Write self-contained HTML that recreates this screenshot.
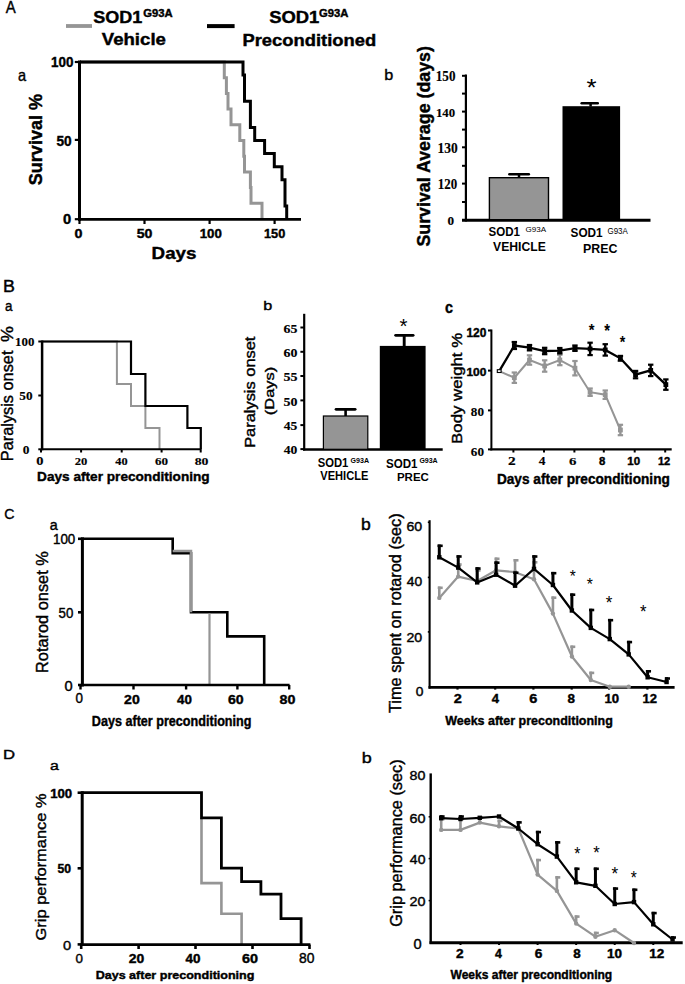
<!DOCTYPE html>
<html><head><meta charset="utf-8"><style>
html,body{margin:0;padding:0;background:#fff;}
svg{display:block;}
text{font-family:"Liberation Sans",sans-serif;stroke:#000;stroke-width:0.4px;}
text.s{font-family:"Liberation Serif",serif;stroke-width:0.15px;}
text.n{stroke-width:0;}
</style></head><body>
<svg width="685" height="984" viewBox="0 0 685 984">
<rect width="685" height="984" fill="#fff"/>
<text x="5.76" y="13.0" font-size="16.29" font-weight="normal" fill="#000" textLength="9.97" lengthAdjust="spacingAndGlyphs">A</text>
<line x1="66" y1="26" x2="92" y2="26" stroke="#959595" stroke-width="3.8" stroke-linecap="butt"/>
<text x="93.16" y="22.73" font-size="16.54" font-weight="bold" fill="#000" textLength="49.05" lengthAdjust="spacingAndGlyphs">SOD1</text>
<text x="143.35" y="17.27" font-size="10.14" font-weight="bold" fill="#000" textLength="29.36" lengthAdjust="spacingAndGlyphs">G93A</text>
<text x="101.76" y="44.83" font-size="16.73" font-weight="bold" fill="#000" textLength="64.18" lengthAdjust="spacingAndGlyphs">Vehicle</text>
<line x1="207" y1="26.1" x2="234.6" y2="26.1" stroke="#000" stroke-width="4" stroke-linecap="butt"/>
<text x="269.15" y="22.83" font-size="16.54" font-weight="bold" fill="#000" textLength="50.17" lengthAdjust="spacingAndGlyphs">SOD1</text>
<text x="318.95" y="17.47" font-size="10.28" font-weight="bold" fill="#000" textLength="29.36" lengthAdjust="spacingAndGlyphs">G93A</text>
<text x="242.46" y="45.74" font-size="16.46" font-weight="bold" fill="#000" textLength="133.75" lengthAdjust="spacingAndGlyphs">Preconditioned</text>
<text x="17.88" y="80.64" font-size="16.07" font-weight="normal" fill="#000" textLength="8.1" lengthAdjust="spacingAndGlyphs">a</text>
<path d="M80,62H224.3V77.7H226.4V93.4H228V109.1H231V124.8H239.8V140.5H243.8V156.2H244.5V171.9H250.4V187.6H251V203.3H262V219.0" fill="none" stroke="#959595" stroke-width="3" stroke-linejoin="miter" stroke-linecap="butt"/>
<path d="M80,62H243V75.1H244.5V101.2H250.4V127.4H254.7V140.5H264.6V153.6H274.3V166.7H282V179.7H285V205.9H286.7V219.0" fill="none" stroke="#000" stroke-width="3" stroke-linejoin="miter" stroke-linecap="butt"/>
<line x1="79.5" y1="60.5" x2="79.5" y2="220.8" stroke="#000" stroke-width="3" stroke-linecap="butt"/>
<line x1="78" y1="219.4" x2="301" y2="219.4" stroke="#000" stroke-width="2.8" stroke-linecap="butt"/>
<line x1="74.8" y1="62" x2="79.5" y2="62" stroke="#000" stroke-width="2.2" stroke-linecap="butt"/>
<line x1="74.8" y1="139.9" x2="79.5" y2="139.9" stroke="#000" stroke-width="2.2" stroke-linecap="butt"/>
<line x1="74.8" y1="219.2" x2="79.5" y2="219.2" stroke="#000" stroke-width="2.2" stroke-linecap="butt"/>
<text x="51.06" y="66.91" font-size="14.35" font-weight="bold" fill="#000" textLength="22.39" lengthAdjust="spacingAndGlyphs">100</text>
<text x="56.49" y="146.45" font-size="14.56" font-weight="bold" fill="#000" textLength="15.19" lengthAdjust="spacingAndGlyphs">50</text>
<text x="62.91" y="224.46" font-size="14.13" font-weight="bold" fill="#000" textLength="8.2" lengthAdjust="spacingAndGlyphs">0</text>
<line x1="79.5" y1="219.4" x2="79.5" y2="224" stroke="#000" stroke-width="2.2" stroke-linecap="butt"/>
<line x1="144.5" y1="219.4" x2="144.5" y2="224" stroke="#000" stroke-width="2.2" stroke-linecap="butt"/>
<line x1="209.6" y1="219.4" x2="209.6" y2="224" stroke="#000" stroke-width="2.2" stroke-linecap="butt"/>
<line x1="274.6" y1="219.4" x2="274.6" y2="224" stroke="#000" stroke-width="2.2" stroke-linecap="butt"/>
<text x="74.53" y="237.56" font-size="13.57" font-weight="bold" fill="#000" textLength="7.96" lengthAdjust="spacingAndGlyphs">0</text>
<text x="136.78" y="237.77" font-size="12.86" font-weight="bold" fill="#000" textLength="15.72" lengthAdjust="spacingAndGlyphs">50</text>
<text x="199.67" y="238.27" font-size="13.43" font-weight="bold" fill="#000" textLength="22.18" lengthAdjust="spacingAndGlyphs">100</text>
<text x="264.0" y="238.27" font-size="13.43" font-weight="bold" fill="#000" textLength="21.32" lengthAdjust="spacingAndGlyphs">150</text>
<text x="151.63" y="259.45" font-size="16.65" font-weight="bold" fill="#000" textLength="44.83" lengthAdjust="spacingAndGlyphs">Days</text>
<text x="41.62" y="185.14" font-size="18.23" font-weight="bold" fill="#000" textLength="91.1" lengthAdjust="spacingAndGlyphs" transform="rotate(-90 41.62 185.14)">Survival %</text>
<text x="384.25" y="80.34" font-size="15.51" font-weight="normal" fill="#000" textLength="9.02" lengthAdjust="spacingAndGlyphs">b</text>
<line x1="465.9" y1="74.5" x2="465.9" y2="221.5" stroke="#000" stroke-width="2.2" stroke-linecap="butt"/>
<line x1="462" y1="220.2" x2="650.5" y2="220.2" stroke="#000" stroke-width="3" stroke-linecap="butt"/>
<line x1="462" y1="75.8" x2="465.9" y2="75.8" stroke="#000" stroke-width="2" stroke-linecap="butt"/>
<line x1="462" y1="93.6" x2="465.9" y2="93.6" stroke="#000" stroke-width="2" stroke-linecap="butt"/>
<line x1="462" y1="111.6" x2="465.9" y2="111.6" stroke="#000" stroke-width="2" stroke-linecap="butt"/>
<line x1="462" y1="129.6" x2="465.9" y2="129.6" stroke="#000" stroke-width="2" stroke-linecap="butt"/>
<line x1="462" y1="147.3" x2="465.9" y2="147.3" stroke="#000" stroke-width="2" stroke-linecap="butt"/>
<line x1="462" y1="165.8" x2="465.9" y2="165.8" stroke="#000" stroke-width="2" stroke-linecap="butt"/>
<line x1="462" y1="183.6" x2="465.9" y2="183.6" stroke="#000" stroke-width="2" stroke-linecap="butt"/>
<line x1="462" y1="202" x2="465.9" y2="202" stroke="#000" stroke-width="2" stroke-linecap="butt"/>
<text x="435.75" y="80.56" font-size="14.37" font-weight="bold" class="s" fill="#000" textLength="19.75" lengthAdjust="spacingAndGlyphs">150</text>
<text x="435.98" y="116.87" font-size="12.74" font-weight="bold" class="s" fill="#000" textLength="19.2" lengthAdjust="spacingAndGlyphs">140</text>
<text x="437.52" y="152.96" font-size="13.78" font-weight="bold" class="s" fill="#000" textLength="20.18" lengthAdjust="spacingAndGlyphs">130</text>
<text x="437.76" y="188.66" font-size="13.63" font-weight="bold" class="s" fill="#000" textLength="19.42" lengthAdjust="spacingAndGlyphs">120</text>
<text x="447.51" y="225.48" font-size="12.3" font-weight="bold" class="s" fill="#000" textLength="6.59" lengthAdjust="spacingAndGlyphs">0</text>
<rect x="489.4" y="177.7" width="59.1" height="42" fill="#959595" stroke="#000" stroke-width="1.4"/>
<line x1="519" y1="177.7" x2="519" y2="173.5" stroke="#000" stroke-width="2.5" stroke-linecap="butt"/>
<line x1="509.4" y1="174.3" x2="528.8" y2="174.3" stroke="#000" stroke-width="2.6" stroke-linecap="round"/>
<rect x="562.5" y="106.2" width="57.6" height="113" fill="#000"/>
<line x1="590.6" y1="106.5" x2="590.6" y2="102" stroke="#000" stroke-width="2.5" stroke-linecap="butt"/>
<line x1="581.7" y1="103.2" x2="597.7" y2="103.2" stroke="#000" stroke-width="2.6" stroke-linecap="round"/>
<text x="586.55" y="95.81" font-size="23.43" font-weight="normal" class="n" fill="#000" textLength="10.09" lengthAdjust="spacingAndGlyphs">*</text>
<text x="430.51" y="246.53" font-size="18.77" font-weight="bold" fill="#000" textLength="200.42" lengthAdjust="spacingAndGlyphs" transform="rotate(-90 430.51 246.53)">Survival Average (days)</text>
<text x="488.55" y="235.67" font-size="13.43" font-weight="bold" class="n" fill="#000" textLength="31.47" lengthAdjust="spacingAndGlyphs">SOD1</text>
<text x="525.5" y="231.72" font-size="7.77" font-weight="normal" class="n" fill="#000" textLength="20.62" lengthAdjust="spacingAndGlyphs">G93A</text>
<text x="493.11" y="250.57" font-size="13.0" font-weight="bold" class="n" fill="#000" textLength="52.67" lengthAdjust="spacingAndGlyphs">VEHICLE</text>
<text x="570.55" y="237.47" font-size="13.0" font-weight="bold" class="n" fill="#000" textLength="32.09" lengthAdjust="spacingAndGlyphs">SOD1</text>
<text x="607.5" y="233.72" font-size="8.2" font-weight="normal" class="n" fill="#000" textLength="20.31" lengthAdjust="spacingAndGlyphs">G93A</text>
<text x="583.06" y="252.57" font-size="13.0" font-weight="bold" class="n" fill="#000" textLength="34.39" lengthAdjust="spacingAndGlyphs">PREC</text>
<text x="3.03" y="291.6" font-size="16.15" font-weight="normal" fill="#000" textLength="11.9" lengthAdjust="spacingAndGlyphs">B</text>
<text x="4.93" y="310.65" font-size="15.34" font-weight="normal" fill="#000" textLength="7.45" lengthAdjust="spacingAndGlyphs">a</text>
<path d="M42.1,341.5H116.9V384H131V406H145.4V428H159.5V449.3" fill="none" stroke="#959595" stroke-width="2" stroke-linejoin="miter" stroke-linecap="butt"/>
<path d="M42.1,341.5H131V374H145.4V406H187.4V428H200.8V449.3" fill="none" stroke="#000" stroke-width="2.2" stroke-linejoin="miter" stroke-linecap="butt"/>
<line x1="42.1" y1="340.5" x2="42.1" y2="450.3" stroke="#000" stroke-width="2.5" stroke-linecap="butt"/>
<line x1="41" y1="449.3" x2="201.3" y2="449.3" stroke="#000" stroke-width="2" stroke-linecap="butt"/>
<line x1="38.3" y1="341.5" x2="42.1" y2="341.5" stroke="#000" stroke-width="2" stroke-linecap="butt"/>
<line x1="38.3" y1="395.5" x2="42.1" y2="395.5" stroke="#000" stroke-width="2" stroke-linecap="butt"/>
<line x1="38.3" y1="449.3" x2="42.1" y2="449.3" stroke="#000" stroke-width="2" stroke-linecap="butt"/>
<text x="15.07" y="345.78" font-size="11.85" font-weight="bold" class="s" fill="#000" textLength="19.31" lengthAdjust="spacingAndGlyphs">100</text>
<text x="19.27" y="399.68" font-size="12.15" font-weight="bold" class="s" fill="#000" textLength="13.22" lengthAdjust="spacingAndGlyphs">50</text>
<text x="22.7" y="453.68" font-size="11.85" font-weight="bold" class="s" fill="#000" textLength="6.71" lengthAdjust="spacingAndGlyphs">0</text>
<line x1="41" y1="449.3" x2="41" y2="452.5" stroke="#000" stroke-width="2" stroke-linecap="butt"/>
<line x1="81.1" y1="449.3" x2="81.1" y2="452.5" stroke="#000" stroke-width="2" stroke-linecap="butt"/>
<line x1="121.7" y1="449.3" x2="121.7" y2="452.5" stroke="#000" stroke-width="2" stroke-linecap="butt"/>
<line x1="161.6" y1="449.3" x2="161.6" y2="452.5" stroke="#000" stroke-width="2" stroke-linecap="butt"/>
<line x1="200.7" y1="449.3" x2="200.7" y2="452.5" stroke="#000" stroke-width="2" stroke-linecap="butt"/>
<text x="36.16" y="465.34" font-size="11.48" font-weight="bold" class="s" fill="#000" textLength="7.24" lengthAdjust="spacingAndGlyphs">0</text>
<text x="74.76" y="465.29" font-size="11.26" font-weight="bold" class="s" fill="#000" textLength="12.61" lengthAdjust="spacingAndGlyphs">20</text>
<text x="115.25" y="465.29" font-size="11.26" font-weight="bold" class="s" fill="#000" textLength="12.32" lengthAdjust="spacingAndGlyphs">40</text>
<text x="154.94" y="465.29" font-size="10.96" font-weight="bold" class="s" fill="#000" textLength="13.05" lengthAdjust="spacingAndGlyphs">60</text>
<text x="194.65" y="465.29" font-size="10.96" font-weight="bold" class="s" fill="#000" textLength="13.76" lengthAdjust="spacingAndGlyphs">80</text>
<text x="37.08" y="481.19" font-size="13.23" font-weight="bold" fill="#000" textLength="172.62" lengthAdjust="spacingAndGlyphs">Days after preconditioning</text>
<text x="12.63" y="461.15" font-size="15.76" font-weight="normal" fill="#000" textLength="110.58" lengthAdjust="spacingAndGlyphs" transform="rotate(-90 12.63 461.15)">Paralysis onset</text>
<text x="13.02" y="342.12" font-size="16.57" font-weight="normal" fill="#000" textLength="15.83" lengthAdjust="spacingAndGlyphs" transform="rotate(-90 13.02 342.12)">%</text>
<text x="263.35" y="310.47" font-size="13.33" font-weight="normal" fill="#000" textLength="9.02" lengthAdjust="spacingAndGlyphs">b</text>
<line x1="304.2" y1="313.8" x2="304.2" y2="450.5" stroke="#000" stroke-width="2.2" stroke-linecap="butt"/>
<line x1="303" y1="449.4" x2="442.7" y2="449.4" stroke="#000" stroke-width="2.5" stroke-linecap="butt"/>
<line x1="300.4" y1="327.5" x2="304.2" y2="327.5" stroke="#000" stroke-width="2" stroke-linecap="butt"/>
<line x1="300.4" y1="351.8" x2="304.2" y2="351.8" stroke="#000" stroke-width="2" stroke-linecap="butt"/>
<line x1="300.4" y1="376" x2="304.2" y2="376" stroke="#000" stroke-width="2" stroke-linecap="butt"/>
<line x1="300.4" y1="400.4" x2="304.2" y2="400.4" stroke="#000" stroke-width="2" stroke-linecap="butt"/>
<line x1="300.4" y1="425.1" x2="304.2" y2="425.1" stroke="#000" stroke-width="2" stroke-linecap="butt"/>
<line x1="300.4" y1="449.1" x2="304.2" y2="449.1" stroke="#000" stroke-width="2" stroke-linecap="butt"/>
<text x="283.51" y="332.77" font-size="12.94" font-weight="bold" class="s" fill="#000" textLength="13.91" lengthAdjust="spacingAndGlyphs">65</text>
<text x="283.51" y="357.07" font-size="12.89" font-weight="bold" class="s" fill="#000" textLength="13.91" lengthAdjust="spacingAndGlyphs">60</text>
<text x="283.44" y="381.27" font-size="13.08" font-weight="bold" class="s" fill="#000" textLength="13.98" lengthAdjust="spacingAndGlyphs">55</text>
<text x="283.44" y="405.67" font-size="12.89" font-weight="bold" class="s" fill="#000" textLength="13.98" lengthAdjust="spacingAndGlyphs">50</text>
<text x="283.83" y="430.37" font-size="13.03" font-weight="bold" class="s" fill="#000" textLength="13.58" lengthAdjust="spacingAndGlyphs">45</text>
<text x="283.83" y="454.37" font-size="12.89" font-weight="bold" class="s" fill="#000" textLength="13.58" lengthAdjust="spacingAndGlyphs">40</text>
<rect x="323.4" y="416" width="44.4" height="33.3" fill="#959595" stroke="#000" stroke-width="1.2"/>
<line x1="345.6" y1="416" x2="345.6" y2="408" stroke="#000" stroke-width="2.6" stroke-linecap="butt"/>
<line x1="336" y1="409.3" x2="355.2" y2="409.3" stroke="#000" stroke-width="2.7" stroke-linecap="round"/>
<rect x="379.8" y="345.9" width="45.8" height="103.4" fill="#000"/>
<line x1="404.2" y1="346.4" x2="404.2" y2="334.5" stroke="#000" stroke-width="2.9" stroke-linecap="butt"/>
<line x1="395.6" y1="335.3" x2="413.2" y2="335.3" stroke="#000" stroke-width="2.7" stroke-linecap="round"/>
<text x="399.54" y="332.84" font-size="20.86" font-weight="normal" class="n" fill="#000" textLength="8.0" lengthAdjust="spacingAndGlyphs">*</text>
<text x="255.45" y="447.85" font-size="13.73" font-weight="normal" fill="#000" textLength="111.29" lengthAdjust="spacingAndGlyphs" transform="rotate(-90 255.45 447.85)">Paralysis onset</text>
<text x="273.89" y="415.13" font-size="13.08" font-weight="normal" fill="#000" textLength="48.3" lengthAdjust="spacingAndGlyphs" transform="rotate(-90 273.89 415.13)">(Days)</text>
<text x="317.66" y="467.37" font-size="12.72" font-weight="bold" class="n" fill="#000" textLength="30.66" lengthAdjust="spacingAndGlyphs">SOD1</text>
<text x="350.52" y="463.21" font-size="7.46" font-weight="bold" class="n" fill="#000" textLength="18.48" lengthAdjust="spacingAndGlyphs">G93A</text>
<text x="320.32" y="479.88" font-size="12.3" font-weight="bold" class="n" fill="#000" textLength="48.02" lengthAdjust="spacingAndGlyphs">VEHICLE</text>
<text x="385.95" y="467.87" font-size="12.58" font-weight="bold" class="n" fill="#000" textLength="31.57" lengthAdjust="spacingAndGlyphs">SOD1</text>
<text x="419.42" y="463.21" font-size="7.46" font-weight="bold" class="n" fill="#000" textLength="18.27" lengthAdjust="spacingAndGlyphs">G93A</text>
<text x="396.92" y="480.58" font-size="11.73" font-weight="bold" class="n" fill="#000" textLength="32.0" lengthAdjust="spacingAndGlyphs">PREC</text>
<text x="444.93" y="312.64" font-size="15.89" font-weight="bold" fill="#000" textLength="7.99" lengthAdjust="spacingAndGlyphs">c</text>
<line x1="491.4" y1="329.5" x2="491.4" y2="450.3" stroke="#000" stroke-width="2" stroke-linecap="butt"/>
<line x1="490.4" y1="449.4" x2="671.7" y2="449.4" stroke="#000" stroke-width="2.2" stroke-linecap="butt"/>
<line x1="488" y1="330.5" x2="491.4" y2="330.5" stroke="#000" stroke-width="2" stroke-linecap="butt"/>
<line x1="488" y1="370.6" x2="491.4" y2="370.6" stroke="#000" stroke-width="2" stroke-linecap="butt"/>
<line x1="488" y1="410.4" x2="491.4" y2="410.4" stroke="#000" stroke-width="2" stroke-linecap="butt"/>
<line x1="488" y1="449.4" x2="491.4" y2="449.4" stroke="#000" stroke-width="2" stroke-linecap="butt"/>
<text x="466.45" y="336.68" font-size="12.16" font-weight="bold" fill="#000" textLength="19.94" lengthAdjust="spacingAndGlyphs">120</text>
<text x="466.45" y="376.39" font-size="10.74" font-weight="bold" fill="#000" textLength="19.94" lengthAdjust="spacingAndGlyphs">100</text>
<text x="470.87" y="415.77" font-size="12.74" font-weight="bold" class="s" fill="#000" textLength="13.12" lengthAdjust="spacingAndGlyphs">80</text>
<text x="470.84" y="455.68" font-size="12.15" font-weight="bold" class="s" fill="#000" textLength="13.15" lengthAdjust="spacingAndGlyphs">60</text>
<line x1="513.4" y1="449.4" x2="513.4" y2="452.5" stroke="#000" stroke-width="2" stroke-linecap="butt"/>
<line x1="544" y1="449.4" x2="544" y2="452.5" stroke="#000" stroke-width="2" stroke-linecap="butt"/>
<line x1="574.4" y1="449.4" x2="574.4" y2="452.5" stroke="#000" stroke-width="2" stroke-linecap="butt"/>
<line x1="603.8" y1="449.4" x2="603.8" y2="452.5" stroke="#000" stroke-width="2" stroke-linecap="butt"/>
<line x1="634.7" y1="449.4" x2="634.7" y2="452.5" stroke="#000" stroke-width="2" stroke-linecap="butt"/>
<line x1="665.2" y1="449.4" x2="665.2" y2="452.5" stroke="#000" stroke-width="2" stroke-linecap="butt"/>
<text x="508.04" y="464.8" font-size="11.47" font-weight="bold" class="s" fill="#000" textLength="7.71" lengthAdjust="spacingAndGlyphs">2</text>
<text x="538.73" y="464.8" font-size="11.56" font-weight="bold" class="s" fill="#000" textLength="6.7" lengthAdjust="spacingAndGlyphs">4</text>
<text x="569.08" y="464.69" font-size="11.3" font-weight="bold" class="s" fill="#000" textLength="7.47" lengthAdjust="spacingAndGlyphs">6</text>
<text x="599.13" y="464.59" font-size="10.74" font-weight="bold" fill="#000" textLength="6.32" lengthAdjust="spacingAndGlyphs">8</text>
<text x="627.38" y="464.59" font-size="10.74" font-weight="bold" fill="#000" textLength="12.81" lengthAdjust="spacingAndGlyphs">10</text>
<text x="657.9" y="464.7" font-size="10.9" font-weight="bold" fill="#000" textLength="12.45" lengthAdjust="spacingAndGlyphs">12</text>
<text x="496.88" y="484.19" font-size="14.19" font-weight="bold" fill="#000" textLength="172.93" lengthAdjust="spacingAndGlyphs">Days after preconditioning</text>
<text x="462.44" y="443.88" font-size="15.23" font-weight="normal" fill="#000" textLength="110.97" lengthAdjust="spacingAndGlyphs" transform="rotate(-90 462.44 443.88)">Body weight %</text>
<path d="M499.2,371.1 L514.4,377.7 L529.5,360 L544.6,366 L559.8,360 L575.0,368.2 L590.1,392.2 L605.2,394.7 L620.4,430" fill="none" stroke="#959595" stroke-width="2.0" stroke-linejoin="miter" stroke-linecap="butt"/>
<line x1="514.35" y1="372.7" x2="514.35" y2="382.7" stroke="#959595" stroke-width="2.4" stroke-linecap="butt"/>
<line x1="511.65000000000003" y1="372.5" x2="517.0500000000001" y2="372.5" stroke="#959595" stroke-width="2.2" stroke-linecap="butt"/>
<line x1="511.65000000000003" y1="382.9" x2="517.0500000000001" y2="382.9" stroke="#959595" stroke-width="2.2" stroke-linecap="butt"/>
<rect x="511.95000000000005" y="375.3" width="4.8" height="4.8" fill="#959595"/>
<line x1="529.5" y1="355.5" x2="529.5" y2="364.5" stroke="#959595" stroke-width="2.4" stroke-linecap="butt"/>
<line x1="526.8" y1="355.3" x2="532.2" y2="355.3" stroke="#959595" stroke-width="2.2" stroke-linecap="butt"/>
<line x1="526.8" y1="364.7" x2="532.2" y2="364.7" stroke="#959595" stroke-width="2.2" stroke-linecap="butt"/>
<rect x="527.1" y="357.6" width="4.8" height="4.8" fill="#959595"/>
<line x1="544.65" y1="360.5" x2="544.65" y2="371.5" stroke="#959595" stroke-width="2.4" stroke-linecap="butt"/>
<line x1="541.9499999999999" y1="360.3" x2="547.35" y2="360.3" stroke="#959595" stroke-width="2.2" stroke-linecap="butt"/>
<line x1="541.9499999999999" y1="371.7" x2="547.35" y2="371.7" stroke="#959595" stroke-width="2.2" stroke-linecap="butt"/>
<rect x="542.25" y="363.6" width="4.8" height="4.8" fill="#959595"/>
<line x1="559.8" y1="355" x2="559.8" y2="365" stroke="#959595" stroke-width="2.4" stroke-linecap="butt"/>
<line x1="557.0999999999999" y1="354.8" x2="562.5" y2="354.8" stroke="#959595" stroke-width="2.2" stroke-linecap="butt"/>
<line x1="557.0999999999999" y1="365.2" x2="562.5" y2="365.2" stroke="#959595" stroke-width="2.2" stroke-linecap="butt"/>
<rect x="557.4" y="357.6" width="4.8" height="4.8" fill="#959595"/>
<line x1="574.95" y1="361.2" x2="574.95" y2="375.2" stroke="#959595" stroke-width="2.4" stroke-linecap="butt"/>
<line x1="572.25" y1="361.0" x2="577.6500000000001" y2="361.0" stroke="#959595" stroke-width="2.2" stroke-linecap="butt"/>
<line x1="572.25" y1="375.4" x2="577.6500000000001" y2="375.4" stroke="#959595" stroke-width="2.2" stroke-linecap="butt"/>
<rect x="572.5500000000001" y="365.8" width="4.8" height="4.8" fill="#959595"/>
<line x1="590.1" y1="388.7" x2="590.1" y2="395.7" stroke="#959595" stroke-width="2.4" stroke-linecap="butt"/>
<line x1="587.4" y1="388.5" x2="592.8000000000001" y2="388.5" stroke="#959595" stroke-width="2.2" stroke-linecap="butt"/>
<line x1="587.4" y1="395.9" x2="592.8000000000001" y2="395.9" stroke="#959595" stroke-width="2.2" stroke-linecap="butt"/>
<rect x="587.7" y="389.8" width="4.8" height="4.8" fill="#959595"/>
<line x1="605.25" y1="390.7" x2="605.25" y2="398.7" stroke="#959595" stroke-width="2.4" stroke-linecap="butt"/>
<line x1="602.55" y1="390.5" x2="607.95" y2="390.5" stroke="#959595" stroke-width="2.2" stroke-linecap="butt"/>
<line x1="602.55" y1="398.9" x2="607.95" y2="398.9" stroke="#959595" stroke-width="2.2" stroke-linecap="butt"/>
<rect x="602.85" y="392.3" width="4.8" height="4.8" fill="#959595"/>
<line x1="620.4" y1="425" x2="620.4" y2="435" stroke="#959595" stroke-width="2.4" stroke-linecap="butt"/>
<line x1="617.6999999999999" y1="424.8" x2="623.1" y2="424.8" stroke="#959595" stroke-width="2.2" stroke-linecap="butt"/>
<line x1="617.6999999999999" y1="435.2" x2="623.1" y2="435.2" stroke="#959595" stroke-width="2.2" stroke-linecap="butt"/>
<rect x="618.0" y="427.6" width="4.8" height="4.8" fill="#959595"/>
<path d="M499.2,371.1 L514.4,345.5 L529.5,347.7 L544.6,351 L559.8,350.7 L575.0,348.2 L590.1,348.9 L605.2,349.9 L620.4,358.3 L635.5,374.6 L650.7,370.4 L665.9,384.6" fill="none" stroke="#000" stroke-width="2.3" stroke-linejoin="miter" stroke-linecap="butt"/>
<line x1="514.35" y1="342.2" x2="514.35" y2="348.8" stroke="#000" stroke-width="2.4" stroke-linecap="butt"/>
<line x1="511.65000000000003" y1="342.0" x2="517.0500000000001" y2="342.0" stroke="#000" stroke-width="2.2" stroke-linecap="butt"/>
<line x1="511.65000000000003" y1="349.0" x2="517.0500000000001" y2="349.0" stroke="#000" stroke-width="2.2" stroke-linecap="butt"/>
<rect x="511.95000000000005" y="343.1" width="4.8" height="4.8" fill="#000"/>
<line x1="529.5" y1="345.2" x2="529.5" y2="350.2" stroke="#000" stroke-width="2.4" stroke-linecap="butt"/>
<line x1="526.8" y1="345.0" x2="532.2" y2="345.0" stroke="#000" stroke-width="2.2" stroke-linecap="butt"/>
<line x1="526.8" y1="350.4" x2="532.2" y2="350.4" stroke="#000" stroke-width="2.2" stroke-linecap="butt"/>
<rect x="527.1" y="345.3" width="4.8" height="4.8" fill="#000"/>
<line x1="544.65" y1="348" x2="544.65" y2="354" stroke="#000" stroke-width="2.4" stroke-linecap="butt"/>
<line x1="541.9499999999999" y1="347.8" x2="547.35" y2="347.8" stroke="#000" stroke-width="2.2" stroke-linecap="butt"/>
<line x1="541.9499999999999" y1="354.2" x2="547.35" y2="354.2" stroke="#000" stroke-width="2.2" stroke-linecap="butt"/>
<rect x="542.25" y="348.6" width="4.8" height="4.8" fill="#000"/>
<line x1="559.8" y1="348.2" x2="559.8" y2="353.2" stroke="#000" stroke-width="2.4" stroke-linecap="butt"/>
<line x1="557.0999999999999" y1="348.0" x2="562.5" y2="348.0" stroke="#000" stroke-width="2.2" stroke-linecap="butt"/>
<line x1="557.0999999999999" y1="353.4" x2="562.5" y2="353.4" stroke="#000" stroke-width="2.2" stroke-linecap="butt"/>
<rect x="557.4" y="348.3" width="4.8" height="4.8" fill="#000"/>
<line x1="574.95" y1="345.7" x2="574.95" y2="350.7" stroke="#000" stroke-width="2.4" stroke-linecap="butt"/>
<line x1="572.25" y1="345.5" x2="577.6500000000001" y2="345.5" stroke="#000" stroke-width="2.2" stroke-linecap="butt"/>
<line x1="572.25" y1="350.9" x2="577.6500000000001" y2="350.9" stroke="#000" stroke-width="2.2" stroke-linecap="butt"/>
<rect x="572.5500000000001" y="345.8" width="4.8" height="4.8" fill="#000"/>
<line x1="590.1" y1="342.9" x2="590.1" y2="354.9" stroke="#000" stroke-width="2.4" stroke-linecap="butt"/>
<line x1="587.4" y1="342.7" x2="592.8000000000001" y2="342.7" stroke="#000" stroke-width="2.2" stroke-linecap="butt"/>
<line x1="587.4" y1="355.09999999999997" x2="592.8000000000001" y2="355.09999999999997" stroke="#000" stroke-width="2.2" stroke-linecap="butt"/>
<rect x="587.7" y="346.5" width="4.8" height="4.8" fill="#000"/>
<line x1="605.25" y1="344.4" x2="605.25" y2="355.4" stroke="#000" stroke-width="2.4" stroke-linecap="butt"/>
<line x1="602.55" y1="344.2" x2="607.95" y2="344.2" stroke="#000" stroke-width="2.2" stroke-linecap="butt"/>
<line x1="602.55" y1="355.59999999999997" x2="607.95" y2="355.59999999999997" stroke="#000" stroke-width="2.2" stroke-linecap="butt"/>
<rect x="602.85" y="347.5" width="4.8" height="4.8" fill="#000"/>
<line x1="620.4" y1="356.1" x2="620.4" y2="360.5" stroke="#000" stroke-width="2.4" stroke-linecap="butt"/>
<line x1="617.6999999999999" y1="355.90000000000003" x2="623.1" y2="355.90000000000003" stroke="#000" stroke-width="2.2" stroke-linecap="butt"/>
<line x1="617.6999999999999" y1="360.7" x2="623.1" y2="360.7" stroke="#000" stroke-width="2.2" stroke-linecap="butt"/>
<rect x="618.0" y="355.90000000000003" width="4.8" height="4.8" fill="#000"/>
<line x1="635.55" y1="371.1" x2="635.55" y2="378.1" stroke="#000" stroke-width="2.4" stroke-linecap="butt"/>
<line x1="632.8499999999999" y1="370.90000000000003" x2="638.25" y2="370.90000000000003" stroke="#000" stroke-width="2.2" stroke-linecap="butt"/>
<line x1="632.8499999999999" y1="378.3" x2="638.25" y2="378.3" stroke="#000" stroke-width="2.2" stroke-linecap="butt"/>
<rect x="633.15" y="372.20000000000005" width="4.8" height="4.8" fill="#000"/>
<line x1="650.7" y1="364.9" x2="650.7" y2="375.9" stroke="#000" stroke-width="2.4" stroke-linecap="butt"/>
<line x1="648.0" y1="364.7" x2="653.4000000000001" y2="364.7" stroke="#000" stroke-width="2.2" stroke-linecap="butt"/>
<line x1="648.0" y1="376.09999999999997" x2="653.4000000000001" y2="376.09999999999997" stroke="#000" stroke-width="2.2" stroke-linecap="butt"/>
<rect x="648.3000000000001" y="368.0" width="4.8" height="4.8" fill="#000"/>
<line x1="665.85" y1="379.6" x2="665.85" y2="389.6" stroke="#000" stroke-width="2.4" stroke-linecap="butt"/>
<line x1="663.15" y1="379.40000000000003" x2="668.5500000000001" y2="379.40000000000003" stroke="#000" stroke-width="2.2" stroke-linecap="butt"/>
<line x1="663.15" y1="389.8" x2="668.5500000000001" y2="389.8" stroke="#000" stroke-width="2.2" stroke-linecap="butt"/>
<rect x="663.45" y="382.20000000000005" width="4.8" height="4.8" fill="#000"/>
<rect x="497.3" y="369.70000000000005" width="3.8" height="2.8" fill="#fff" stroke="#000" stroke-width="1.1"/>
<text x="588.86" y="336.01" font-size="17.18" font-weight="bold" class="n" fill="#000" textLength="5.76" lengthAdjust="spacingAndGlyphs">*</text>
<text x="604.16" y="337.2" font-size="17.45" font-weight="bold" class="n" fill="#000" textLength="5.76" lengthAdjust="spacingAndGlyphs">*</text>
<text x="619.76" y="347.87" font-size="16.11" font-weight="bold" class="n" fill="#000" textLength="5.56" lengthAdjust="spacingAndGlyphs">*</text>
<text x="4.19" y="518.85" font-size="14.84" font-weight="normal" fill="#000" textLength="10.24" lengthAdjust="spacingAndGlyphs">C</text>
<text x="49.69" y="530.06" font-size="14.25" font-weight="normal" fill="#000" textLength="7.99" lengthAdjust="spacingAndGlyphs">a</text>
<path d="M82.6,538.8H172.7V553.3H191V612.3H227.3V636.4H264.2V685" fill="none" stroke="#000" stroke-width="2.6" stroke-linejoin="miter" stroke-linecap="butt"/>
<path d="M172.7,551H191V612.3" fill="none" stroke="#959595" stroke-width="2.5" stroke-linejoin="miter" stroke-linecap="butt"/>
<path d="M209.5,613.5V685" fill="none" stroke="#959595" stroke-width="2.2" stroke-linejoin="miter" stroke-linecap="butt"/>
<line x1="82.4" y1="537.3" x2="82.4" y2="686.5" stroke="#000" stroke-width="3" stroke-linecap="butt"/>
<line x1="80.9" y1="685" x2="289.6" y2="685" stroke="#000" stroke-width="2.6" stroke-linecap="butt"/>
<line x1="78" y1="538.8" x2="82.4" y2="538.8" stroke="#000" stroke-width="2.6" stroke-linecap="butt"/>
<line x1="78" y1="612.3" x2="82.4" y2="612.3" stroke="#000" stroke-width="2.6" stroke-linecap="butt"/>
<line x1="78" y1="685" x2="82.4" y2="685" stroke="#000" stroke-width="2.6" stroke-linecap="butt"/>
<text x="53.0" y="544.16" font-size="13.71" font-weight="normal" fill="#000" textLength="22.32" lengthAdjust="spacingAndGlyphs">100</text>
<text x="58.57" y="617.96" font-size="13.99" font-weight="normal" fill="#000" textLength="14.76" lengthAdjust="spacingAndGlyphs">50</text>
<text x="64.61" y="690.66" font-size="14.13" font-weight="normal" fill="#000" textLength="8.15" lengthAdjust="spacingAndGlyphs">0</text>
<line x1="80.5" y1="685" x2="80.5" y2="689.5" stroke="#000" stroke-width="2.4" stroke-linecap="butt"/>
<line x1="133.5" y1="685" x2="133.5" y2="689.5" stroke="#000" stroke-width="2.4" stroke-linecap="butt"/>
<line x1="186.1" y1="685" x2="186.1" y2="689.5" stroke="#000" stroke-width="2.4" stroke-linecap="butt"/>
<line x1="237.4" y1="685" x2="237.4" y2="689.5" stroke="#000" stroke-width="2.4" stroke-linecap="butt"/>
<line x1="289.2" y1="685" x2="289.2" y2="689.5" stroke="#000" stroke-width="2.4" stroke-linecap="butt"/>
<text x="75.46" y="703.16" font-size="14.42" font-weight="normal" fill="#000" textLength="7.45" lengthAdjust="spacingAndGlyphs">0</text>
<text x="124.11" y="704.07" font-size="12.72" font-weight="bold" fill="#000" textLength="15.69" lengthAdjust="spacingAndGlyphs">20</text>
<text x="177.0" y="703.57" font-size="13.43" font-weight="bold" fill="#000" textLength="14.87" lengthAdjust="spacingAndGlyphs">40</text>
<text x="227.97" y="703.57" font-size="13.43" font-weight="bold" fill="#000" textLength="15.73" lengthAdjust="spacingAndGlyphs">60</text>
<text x="279.64" y="703.57" font-size="13.43" font-weight="bold" fill="#000" textLength="15.87" lengthAdjust="spacingAndGlyphs">80</text>
<text x="91.85" y="725.99" font-size="14.19" font-weight="bold" fill="#000" textLength="159.59" lengthAdjust="spacingAndGlyphs">Days after preconditioning</text>
<text x="47.63" y="672.95" font-size="16.6" font-weight="normal" fill="#000" textLength="121.7" lengthAdjust="spacingAndGlyphs" transform="rotate(-90 47.63 672.95)">Rotarod onset %</text>
<text x="361.06" y="529.54" font-size="15.78" font-weight="normal" fill="#000" textLength="9.76" lengthAdjust="spacingAndGlyphs">b</text>
<line x1="429.6" y1="520.2" x2="429.6" y2="688.6" stroke="#000" stroke-width="2.1" stroke-linecap="butt"/>
<line x1="428.5" y1="687.4" x2="674.6" y2="687.4" stroke="#000" stroke-width="2.6" stroke-linecap="butt"/>
<line x1="427.8" y1="522.3" x2="429.6" y2="522.3" stroke="#000" stroke-width="1.6" stroke-linecap="butt"/>
<line x1="427.8" y1="577.4" x2="429.6" y2="577.4" stroke="#000" stroke-width="1.6" stroke-linecap="butt"/>
<line x1="427.8" y1="631.9" x2="429.6" y2="631.9" stroke="#000" stroke-width="1.6" stroke-linecap="butt"/>
<text x="406.49" y="531.17" font-size="13.43" font-weight="normal" fill="#000" textLength="15.77" lengthAdjust="spacingAndGlyphs">60</text>
<text x="406.89" y="585.97" font-size="12.86" font-weight="normal" fill="#000" textLength="15.36" lengthAdjust="spacingAndGlyphs">40</text>
<text x="406.49" y="641.97" font-size="12.58" font-weight="normal" fill="#000" textLength="15.77" lengthAdjust="spacingAndGlyphs">20</text>
<text x="415.75" y="695.77" font-size="13.0" font-weight="normal" fill="#000" textLength="7.69" lengthAdjust="spacingAndGlyphs">0</text>
<line x1="457.5" y1="687.4" x2="457.5" y2="689.6" stroke="#000" stroke-width="2.2" stroke-linecap="butt"/>
<line x1="495.2" y1="687.4" x2="495.2" y2="689.6" stroke="#000" stroke-width="2.2" stroke-linecap="butt"/>
<line x1="533.4" y1="687.4" x2="533.4" y2="689.6" stroke="#000" stroke-width="2.2" stroke-linecap="butt"/>
<line x1="571.7" y1="687.4" x2="571.7" y2="689.6" stroke="#000" stroke-width="2.2" stroke-linecap="butt"/>
<line x1="609.1" y1="687.4" x2="609.1" y2="689.6" stroke="#000" stroke-width="2.2" stroke-linecap="butt"/>
<line x1="647.4" y1="687.4" x2="647.4" y2="689.6" stroke="#000" stroke-width="2.2" stroke-linecap="butt"/>
<text x="453.89" y="703.1" font-size="13.05" font-weight="bold" fill="#000" textLength="8.07" lengthAdjust="spacingAndGlyphs">2</text>
<text x="491.7" y="703.1" font-size="13.24" font-weight="bold" fill="#000" textLength="7.28" lengthAdjust="spacingAndGlyphs">4</text>
<text x="529.26" y="702.97" font-size="12.86" font-weight="bold" fill="#000" textLength="8.07" lengthAdjust="spacingAndGlyphs">6</text>
<text x="567.46" y="702.87" font-size="12.58" font-weight="bold" fill="#000" textLength="7.45" lengthAdjust="spacingAndGlyphs">8</text>
<text x="604.47" y="702.87" font-size="12.58" font-weight="bold" fill="#000" textLength="14.68" lengthAdjust="spacingAndGlyphs">10</text>
<text x="642.48" y="703.0" font-size="12.76" font-weight="bold" fill="#000" textLength="14.54" lengthAdjust="spacingAndGlyphs">12</text>
<text x="445.2" y="724.96" font-size="12.91" font-weight="bold" fill="#000" textLength="167.63" lengthAdjust="spacingAndGlyphs">Weeks after preconditioning</text>
<text x="401.45" y="712.97" font-size="15.66" font-weight="normal" fill="#000" textLength="199.66" lengthAdjust="spacingAndGlyphs" transform="rotate(-90 401.45 712.97)">Time spent on rotarod (sec)</text>
<path d="M439.3,597.9 L458.2,576.6 L477.2,581 L496.1,570.3 L515.1,572.2 L534.0,579.2 L552.9,613.6 L571.9,656.5 L590.8,680 L609.8,686.7 L628.7,686.7" fill="none" stroke="#959595" stroke-width="2.2" stroke-linejoin="round" stroke-linecap="butt"/>
<line x1="439.3" y1="597.9" x2="439.3" y2="586.5" stroke="#959595" stroke-width="2.6" stroke-linecap="butt"/>
<line x1="437.7" y1="587.8" x2="442.7" y2="587.8" stroke="#959595" stroke-width="2.6" stroke-linecap="butt"/>
<circle cx="439.3" cy="597.9" r="2.2" fill="#959595"/>
<line x1="458.24" y1="576.6" x2="458.24" y2="563.2" stroke="#959595" stroke-width="2.6" stroke-linecap="butt"/>
<line x1="456.64" y1="564.5" x2="461.64" y2="564.5" stroke="#959595" stroke-width="2.6" stroke-linecap="butt"/>
<circle cx="458.2" cy="576.6" r="2.2" fill="#959595"/>
<line x1="477.18" y1="581" x2="477.18" y2="569.1" stroke="#959595" stroke-width="2.6" stroke-linecap="butt"/>
<line x1="475.58" y1="570.4" x2="480.58" y2="570.4" stroke="#959595" stroke-width="2.6" stroke-linecap="butt"/>
<circle cx="477.2" cy="581" r="2.2" fill="#959595"/>
<line x1="496.12" y1="570.3" x2="496.12" y2="557.5" stroke="#959595" stroke-width="2.6" stroke-linecap="butt"/>
<line x1="494.52" y1="558.8" x2="499.52" y2="558.8" stroke="#959595" stroke-width="2.6" stroke-linecap="butt"/>
<circle cx="496.1" cy="570.3" r="2.2" fill="#959595"/>
<line x1="515.0600000000001" y1="572.2" x2="515.0600000000001" y2="559.0" stroke="#959595" stroke-width="2.6" stroke-linecap="butt"/>
<line x1="513.4600000000002" y1="560.3" x2="518.46" y2="560.3" stroke="#959595" stroke-width="2.6" stroke-linecap="butt"/>
<circle cx="515.1" cy="572.2" r="2.2" fill="#959595"/>
<line x1="534.0" y1="579.2" x2="534.0" y2="561.0" stroke="#959595" stroke-width="2.6" stroke-linecap="butt"/>
<line x1="532.4000000000001" y1="562.3" x2="537.4" y2="562.3" stroke="#959595" stroke-width="2.6" stroke-linecap="butt"/>
<circle cx="534.0" cy="579.2" r="2.2" fill="#959595"/>
<line x1="552.94" y1="613.6" x2="552.94" y2="596.4000000000001" stroke="#959595" stroke-width="2.6" stroke-linecap="butt"/>
<line x1="551.3400000000001" y1="597.7" x2="556.34" y2="597.7" stroke="#959595" stroke-width="2.6" stroke-linecap="butt"/>
<circle cx="552.9" cy="613.6" r="2.2" fill="#959595"/>
<line x1="571.88" y1="656.5" x2="571.88" y2="645.5" stroke="#959595" stroke-width="2.6" stroke-linecap="butt"/>
<line x1="570.2800000000001" y1="646.8" x2="575.28" y2="646.8" stroke="#959595" stroke-width="2.6" stroke-linecap="butt"/>
<circle cx="571.9" cy="656.5" r="2.2" fill="#959595"/>
<line x1="590.82" y1="680" x2="590.82" y2="671.6" stroke="#959595" stroke-width="2.6" stroke-linecap="butt"/>
<line x1="589.2200000000001" y1="672.9" x2="594.22" y2="672.9" stroke="#959595" stroke-width="2.6" stroke-linecap="butt"/>
<circle cx="590.8" cy="680" r="2.2" fill="#959595"/>
<circle cx="609.8" cy="686.7" r="2.2" fill="#959595"/>
<circle cx="628.7" cy="686.7" r="2.2" fill="#959595"/>
<path d="M439.3,557.3 L458.2,567.6 L477.2,582.4 L496.1,574.7 L515.1,585.7 L534.0,568.9 L552.9,585 L571.9,610.5 L590.8,627.9 L609.8,639.1 L628.7,654.4 L647.6,677.3 L666.6,682" fill="none" stroke="#000" stroke-width="2.2" stroke-linejoin="round" stroke-linecap="butt"/>
<line x1="439.3" y1="557.3" x2="439.3" y2="544.5" stroke="#000" stroke-width="3.0" stroke-linecap="butt"/>
<line x1="437.5" y1="545.8" x2="442.7" y2="545.8" stroke="#000" stroke-width="2.6" stroke-linecap="butt"/>
<rect x="437.1" y="555.0999999999999" width="4.4" height="4.4" fill="#000"/>
<line x1="458.24" y1="567.6" x2="458.24" y2="555.2" stroke="#000" stroke-width="3.0" stroke-linecap="butt"/>
<line x1="456.44" y1="556.5" x2="461.64" y2="556.5" stroke="#000" stroke-width="2.6" stroke-linecap="butt"/>
<rect x="456.04" y="565.4" width="4.4" height="4.4" fill="#000"/>
<line x1="477.18" y1="582.4" x2="477.18" y2="567.2" stroke="#000" stroke-width="3.0" stroke-linecap="butt"/>
<line x1="475.38" y1="568.5" x2="480.58" y2="568.5" stroke="#000" stroke-width="2.6" stroke-linecap="butt"/>
<rect x="474.98" y="580.1999999999999" width="4.4" height="4.4" fill="#000"/>
<line x1="496.12" y1="574.7" x2="496.12" y2="561.4000000000001" stroke="#000" stroke-width="3.0" stroke-linecap="butt"/>
<line x1="494.32" y1="562.7" x2="499.52" y2="562.7" stroke="#000" stroke-width="2.6" stroke-linecap="butt"/>
<rect x="493.92" y="572.5" width="4.4" height="4.4" fill="#000"/>
<line x1="515.0600000000001" y1="585.7" x2="515.0600000000001" y2="571.4000000000001" stroke="#000" stroke-width="3.0" stroke-linecap="butt"/>
<line x1="513.2600000000001" y1="572.7" x2="518.46" y2="572.7" stroke="#000" stroke-width="2.6" stroke-linecap="butt"/>
<rect x="512.86" y="583.5" width="4.4" height="4.4" fill="#000"/>
<line x1="534.0" y1="568.9" x2="534.0" y2="555.2" stroke="#000" stroke-width="3.0" stroke-linecap="butt"/>
<line x1="532.2" y1="556.5" x2="537.4" y2="556.5" stroke="#000" stroke-width="2.6" stroke-linecap="butt"/>
<rect x="531.8" y="566.6999999999999" width="4.4" height="4.4" fill="#000"/>
<line x1="552.94" y1="585" x2="552.94" y2="571.9000000000001" stroke="#000" stroke-width="3.0" stroke-linecap="butt"/>
<line x1="551.1400000000001" y1="573.2" x2="556.34" y2="573.2" stroke="#000" stroke-width="2.6" stroke-linecap="butt"/>
<rect x="550.74" y="582.8" width="4.4" height="4.4" fill="#000"/>
<line x1="571.88" y1="610.5" x2="571.88" y2="593.4000000000001" stroke="#000" stroke-width="3.0" stroke-linecap="butt"/>
<line x1="570.08" y1="594.7" x2="575.28" y2="594.7" stroke="#000" stroke-width="2.6" stroke-linecap="butt"/>
<rect x="569.68" y="608.3" width="4.4" height="4.4" fill="#000"/>
<line x1="590.82" y1="627.9" x2="590.82" y2="608.7" stroke="#000" stroke-width="3.0" stroke-linecap="butt"/>
<line x1="589.0200000000001" y1="610.0" x2="594.22" y2="610.0" stroke="#000" stroke-width="2.6" stroke-linecap="butt"/>
<rect x="588.62" y="625.6999999999999" width="4.4" height="4.4" fill="#000"/>
<line x1="609.76" y1="639.1" x2="609.76" y2="618.9000000000001" stroke="#000" stroke-width="3.0" stroke-linecap="butt"/>
<line x1="607.96" y1="620.2" x2="613.16" y2="620.2" stroke="#000" stroke-width="2.6" stroke-linecap="butt"/>
<rect x="607.56" y="636.9" width="4.4" height="4.4" fill="#000"/>
<line x1="628.7" y1="654.4" x2="628.7" y2="640.8000000000001" stroke="#000" stroke-width="3.0" stroke-linecap="butt"/>
<line x1="626.9000000000001" y1="642.1" x2="632.1" y2="642.1" stroke="#000" stroke-width="2.6" stroke-linecap="butt"/>
<rect x="626.5" y="652.1999999999999" width="4.4" height="4.4" fill="#000"/>
<line x1="647.64" y1="677.3" x2="647.64" y2="670.0" stroke="#000" stroke-width="3.0" stroke-linecap="butt"/>
<line x1="645.84" y1="671.3" x2="651.04" y2="671.3" stroke="#000" stroke-width="2.6" stroke-linecap="butt"/>
<rect x="645.4399999999999" y="675.0999999999999" width="4.4" height="4.4" fill="#000"/>
<line x1="666.58" y1="682" x2="666.58" y2="677.2" stroke="#000" stroke-width="3.0" stroke-linecap="butt"/>
<line x1="664.7800000000001" y1="678.5" x2="669.98" y2="678.5" stroke="#000" stroke-width="2.6" stroke-linecap="butt"/>
<rect x="664.38" y="679.8" width="4.4" height="4.4" fill="#000"/>
<text x="569.73" y="581.69" font-size="16.57" font-weight="normal" class="n" fill="#000" textLength="6.03" lengthAdjust="spacingAndGlyphs">*</text>
<text x="586.72" y="589.99" font-size="16.57" font-weight="normal" class="n" fill="#000" textLength="6.14" lengthAdjust="spacingAndGlyphs">*</text>
<text x="605.7" y="608.58" font-size="17.43" font-weight="normal" class="n" fill="#000" textLength="6.58" lengthAdjust="spacingAndGlyphs">*</text>
<text x="640.11" y="618.28" font-size="17.43" font-weight="normal" class="n" fill="#000" textLength="6.47" lengthAdjust="spacingAndGlyphs">*</text>
<text x="3.12" y="758.6" font-size="13.38" font-weight="normal" fill="#000" textLength="12.07" lengthAdjust="spacingAndGlyphs">D</text>
<text x="50.12" y="770.06" font-size="13.52" font-weight="normal" fill="#000" textLength="8.86" lengthAdjust="spacingAndGlyphs">a</text>
<path d="M201.5,817.8V883.1H221.4V913.8H241.6V944.6" fill="none" stroke="#959595" stroke-width="2.6" stroke-linejoin="miter" stroke-linecap="butt"/>
<path d="M82.2,792.7H201.5V817.8H221.4V868.2H241.6V881.6H260.9V894.1H281V918.6H301.1V944.6" fill="none" stroke="#000" stroke-width="2.8" stroke-linejoin="miter" stroke-linecap="butt"/>
<line x1="82.2" y1="791.2" x2="82.2" y2="946" stroke="#000" stroke-width="3" stroke-linecap="butt"/>
<line x1="80.6" y1="944.6" x2="310.4" y2="944.6" stroke="#000" stroke-width="2.6" stroke-linecap="butt"/>
<line x1="77.6" y1="792.7" x2="82.2" y2="792.7" stroke="#000" stroke-width="2.6" stroke-linecap="butt"/>
<line x1="77.6" y1="868.3" x2="82.2" y2="868.3" stroke="#000" stroke-width="2.6" stroke-linecap="butt"/>
<line x1="77.6" y1="944.4" x2="82.2" y2="944.4" stroke="#000" stroke-width="2.6" stroke-linecap="butt"/>
<text x="50.17" y="797.68" font-size="12.44" font-weight="bold" fill="#000" textLength="22.07" lengthAdjust="spacingAndGlyphs">100</text>
<text x="57.43" y="873.48" font-size="12.3" font-weight="bold" fill="#000" textLength="13.58" lengthAdjust="spacingAndGlyphs">50</text>
<text x="62.91" y="950.26" font-size="13.57" font-weight="normal" fill="#000" textLength="8.15" lengthAdjust="spacingAndGlyphs">0</text>
<line x1="81.2" y1="944.6" x2="81.2" y2="949" stroke="#000" stroke-width="2.6" stroke-linecap="butt"/>
<line x1="138.6" y1="944.6" x2="138.6" y2="949" stroke="#000" stroke-width="2.6" stroke-linecap="butt"/>
<line x1="195.5" y1="944.6" x2="195.5" y2="949" stroke="#000" stroke-width="2.6" stroke-linecap="butt"/>
<line x1="252.5" y1="944.6" x2="252.5" y2="949" stroke="#000" stroke-width="2.6" stroke-linecap="butt"/>
<line x1="309.5" y1="944.6" x2="309.5" y2="949" stroke="#000" stroke-width="2.6" stroke-linecap="butt"/>
<text x="75.46" y="962.56" font-size="13.57" font-weight="normal" fill="#000" textLength="7.45" lengthAdjust="spacingAndGlyphs">0</text>
<text x="128.71" y="962.88" font-size="12.44" font-weight="bold" fill="#000" textLength="15.48" lengthAdjust="spacingAndGlyphs">20</text>
<text x="185.5" y="962.88" font-size="12.44" font-weight="bold" fill="#000" textLength="14.97" lengthAdjust="spacingAndGlyphs">40</text>
<text x="242.06" y="962.88" font-size="12.44" font-weight="bold" fill="#000" textLength="16.05" lengthAdjust="spacingAndGlyphs">60</text>
<text x="299.01" y="962.66" font-size="13.71" font-weight="normal" fill="#000" textLength="15.44" lengthAdjust="spacingAndGlyphs">80</text>
<text x="95.65" y="978.64" font-size="11.09" font-weight="bold" fill="#000" textLength="158.78" lengthAdjust="spacingAndGlyphs">Days after preconditioning</text>
<text x="46.22" y="940.42" font-size="15.34" font-weight="normal" fill="#000" textLength="146.96" lengthAdjust="spacingAndGlyphs" transform="rotate(-90 46.22 940.42)">Grip performance %</text>
<text x="361.83" y="763.35" font-size="15.24" font-weight="normal" fill="#000" textLength="10.01" lengthAdjust="spacingAndGlyphs">b</text>
<line x1="430.7" y1="773.4" x2="430.7" y2="943.8" stroke="#000" stroke-width="2.4" stroke-linecap="butt"/>
<line x1="429.5" y1="942.7" x2="682.7" y2="942.7" stroke="#000" stroke-width="3" stroke-linecap="butt"/>
<line x1="428.6" y1="816.8" x2="430.7" y2="816.8" stroke="#000" stroke-width="1.5" stroke-linecap="butt"/>
<line x1="428.6" y1="858.6" x2="430.7" y2="858.6" stroke="#000" stroke-width="1.5" stroke-linecap="butt"/>
<line x1="428.6" y1="900.6" x2="430.7" y2="900.6" stroke="#000" stroke-width="1.5" stroke-linecap="butt"/>
<text x="409.59" y="779.77" font-size="13.29" font-weight="normal" fill="#000" textLength="15.88" lengthAdjust="spacingAndGlyphs">80</text>
<text x="409.48" y="822.57" font-size="13.29" font-weight="normal" fill="#000" textLength="15.99" lengthAdjust="spacingAndGlyphs">60</text>
<text x="409.88" y="864.37" font-size="13.29" font-weight="normal" fill="#000" textLength="15.57" lengthAdjust="spacingAndGlyphs">40</text>
<text x="409.48" y="906.37" font-size="13.29" font-weight="normal" fill="#000" textLength="15.99" lengthAdjust="spacingAndGlyphs">20</text>
<text x="413.61" y="948.66" font-size="13.71" font-weight="normal" fill="#000" textLength="8.15" lengthAdjust="spacingAndGlyphs">0</text>
<line x1="460.48" y1="942.7" x2="460.48" y2="945" stroke="#000" stroke-width="2" stroke-linecap="butt"/>
<line x1="499.03999999999996" y1="942.7" x2="499.03999999999996" y2="945" stroke="#000" stroke-width="2" stroke-linecap="butt"/>
<line x1="537.6" y1="942.7" x2="537.6" y2="945" stroke="#000" stroke-width="2" stroke-linecap="butt"/>
<line x1="576.16" y1="942.7" x2="576.16" y2="945" stroke="#000" stroke-width="2" stroke-linecap="butt"/>
<line x1="614.72" y1="942.7" x2="614.72" y2="945" stroke="#000" stroke-width="2" stroke-linecap="butt"/>
<line x1="653.28" y1="942.7" x2="653.28" y2="945" stroke="#000" stroke-width="2" stroke-linecap="butt"/>
<text x="456.12" y="958.4" font-size="12.04" font-weight="bold" fill="#000" textLength="7.61" lengthAdjust="spacingAndGlyphs">2</text>
<text x="495.01" y="958.4" font-size="12.22" font-weight="bold" fill="#000" textLength="6.86" lengthAdjust="spacingAndGlyphs">4</text>
<text x="534.69" y="958.28" font-size="11.87" font-weight="bold" fill="#000" textLength="7.61" lengthAdjust="spacingAndGlyphs">6</text>
<text x="573.16" y="958.28" font-size="11.87" font-weight="bold" fill="#000" textLength="7.45" lengthAdjust="spacingAndGlyphs">8</text>
<text x="606.96" y="958.28" font-size="11.87" font-weight="bold" fill="#000" textLength="15.02" lengthAdjust="spacingAndGlyphs">10</text>
<text x="649.36" y="958.4" font-size="12.04" font-weight="bold" fill="#000" textLength="14.98" lengthAdjust="spacingAndGlyphs">12</text>
<text x="450.5" y="978.79" font-size="12.27" font-weight="bold" fill="#000" textLength="161.7" lengthAdjust="spacingAndGlyphs">Weeks after preconditioning</text>
<text x="401.84" y="926.81" font-size="16.19" font-weight="normal" fill="#000" textLength="167.41" lengthAdjust="spacingAndGlyphs" transform="rotate(-90 401.84 926.81)">Grip performance (sec)</text>
<path d="M441.2,829.9 L460.5,829.9 L479.8,822.6 L499.0,826.3 L518.3,828.5 L537.6,874.6 L556.9,890.9 L576.2,923.6 L595.4,936.7 L614.7,930.2 L634.0,943" fill="none" stroke="#959595" stroke-width="2.2" stroke-linejoin="round" stroke-linecap="butt"/>
<line x1="441.2" y1="829.9" x2="441.2" y2="817.7" stroke="#959595" stroke-width="2.6" stroke-linecap="butt"/>
<line x1="439.59999999999997" y1="819.0" x2="444.59999999999997" y2="819.0" stroke="#959595" stroke-width="2.6" stroke-linecap="butt"/>
<circle cx="441.2" cy="829.9" r="2.2" fill="#959595"/>
<line x1="460.48" y1="829.9" x2="460.48" y2="817.7" stroke="#959595" stroke-width="2.6" stroke-linecap="butt"/>
<line x1="458.88" y1="819.0" x2="463.88" y2="819.0" stroke="#959595" stroke-width="2.6" stroke-linecap="butt"/>
<circle cx="460.5" cy="829.9" r="2.2" fill="#959595"/>
<line x1="479.76" y1="822.6" x2="479.76" y2="816.2" stroke="#959595" stroke-width="2.6" stroke-linecap="butt"/>
<line x1="478.15999999999997" y1="817.5" x2="483.15999999999997" y2="817.5" stroke="#959595" stroke-width="2.6" stroke-linecap="butt"/>
<circle cx="479.8" cy="822.6" r="2.2" fill="#959595"/>
<line x1="499.03999999999996" y1="826.3" x2="499.03999999999996" y2="819.6" stroke="#959595" stroke-width="2.6" stroke-linecap="butt"/>
<line x1="497.43999999999994" y1="820.9" x2="502.43999999999994" y2="820.9" stroke="#959595" stroke-width="2.6" stroke-linecap="butt"/>
<circle cx="499.0" cy="826.3" r="2.2" fill="#959595"/>
<circle cx="518.3" cy="828.5" r="2.2" fill="#959595"/>
<line x1="537.6" y1="874.6" x2="537.6" y2="858.8000000000001" stroke="#959595" stroke-width="2.6" stroke-linecap="butt"/>
<line x1="536.0000000000001" y1="860.1" x2="541.0" y2="860.1" stroke="#959595" stroke-width="2.6" stroke-linecap="butt"/>
<circle cx="537.6" cy="874.6" r="2.2" fill="#959595"/>
<line x1="556.88" y1="890.9" x2="556.88" y2="876.1" stroke="#959595" stroke-width="2.6" stroke-linecap="butt"/>
<line x1="555.2800000000001" y1="877.4" x2="560.28" y2="877.4" stroke="#959595" stroke-width="2.6" stroke-linecap="butt"/>
<circle cx="556.9" cy="890.9" r="2.2" fill="#959595"/>
<line x1="576.16" y1="923.6" x2="576.16" y2="915.3000000000001" stroke="#959595" stroke-width="2.6" stroke-linecap="butt"/>
<line x1="574.5600000000001" y1="916.6" x2="579.56" y2="916.6" stroke="#959595" stroke-width="2.6" stroke-linecap="butt"/>
<circle cx="576.2" cy="923.6" r="2.2" fill="#959595"/>
<line x1="595.44" y1="936.7" x2="595.44" y2="931.7" stroke="#959595" stroke-width="2.6" stroke-linecap="butt"/>
<line x1="593.8400000000001" y1="933.0" x2="598.84" y2="933.0" stroke="#959595" stroke-width="2.6" stroke-linecap="butt"/>
<circle cx="595.4" cy="936.7" r="2.2" fill="#959595"/>
<circle cx="614.7" cy="930.2" r="2.2" fill="#959595"/>
<circle cx="634.0" cy="943" r="2.2" fill="#959595"/>
<path d="M441.2,818.2 L460.5,819 L479.8,817.8 L499.0,816.5 L518.3,828.5 L537.6,844.2 L556.9,856.6 L576.2,882.3 L595.4,885.8 L614.7,904 L634.0,902.1 L653.3,924.3 L672.6,939.5" fill="none" stroke="#000" stroke-width="2.2" stroke-linejoin="round" stroke-linecap="butt"/>
<line x1="441.2" y1="818.2" x2="441.2" y2="815.2" stroke="#000" stroke-width="3.0" stroke-linecap="butt"/>
<line x1="439.4" y1="816.5" x2="444.59999999999997" y2="816.5" stroke="#000" stroke-width="2.6" stroke-linecap="butt"/>
<rect x="439.0" y="816.0" width="4.4" height="4.4" fill="#000"/>
<line x1="460.48" y1="819" x2="460.48" y2="815.2" stroke="#000" stroke-width="3.0" stroke-linecap="butt"/>
<line x1="458.68" y1="816.5" x2="463.88" y2="816.5" stroke="#000" stroke-width="2.6" stroke-linecap="butt"/>
<rect x="458.28000000000003" y="816.8" width="4.4" height="4.4" fill="#000"/>
<rect x="477.56" y="815.5999999999999" width="4.4" height="4.4" fill="#000"/>
<rect x="496.84" y="814.3" width="4.4" height="4.4" fill="#000"/>
<line x1="518.3199999999999" y1="828.5" x2="518.3199999999999" y2="821.1" stroke="#000" stroke-width="3.0" stroke-linecap="butt"/>
<line x1="516.52" y1="822.4" x2="521.7199999999999" y2="822.4" stroke="#000" stroke-width="2.6" stroke-linecap="butt"/>
<rect x="516.1199999999999" y="826.3" width="4.4" height="4.4" fill="#000"/>
<line x1="537.6" y1="844.2" x2="537.6" y2="830.8000000000001" stroke="#000" stroke-width="3.0" stroke-linecap="butt"/>
<line x1="535.8000000000001" y1="832.1" x2="541.0" y2="832.1" stroke="#000" stroke-width="2.6" stroke-linecap="butt"/>
<rect x="535.4" y="842.0" width="4.4" height="4.4" fill="#000"/>
<line x1="556.88" y1="856.6" x2="556.88" y2="841.1" stroke="#000" stroke-width="3.0" stroke-linecap="butt"/>
<line x1="555.08" y1="842.4" x2="560.28" y2="842.4" stroke="#000" stroke-width="2.6" stroke-linecap="butt"/>
<rect x="554.68" y="854.4" width="4.4" height="4.4" fill="#000"/>
<line x1="576.16" y1="882.3" x2="576.16" y2="867.5" stroke="#000" stroke-width="3.0" stroke-linecap="butt"/>
<line x1="574.36" y1="868.8" x2="579.56" y2="868.8" stroke="#000" stroke-width="2.6" stroke-linecap="butt"/>
<rect x="573.9599999999999" y="880.0999999999999" width="4.4" height="4.4" fill="#000"/>
<line x1="595.44" y1="885.8" x2="595.44" y2="867.5" stroke="#000" stroke-width="3.0" stroke-linecap="butt"/>
<line x1="593.6400000000001" y1="868.8" x2="598.84" y2="868.8" stroke="#000" stroke-width="2.6" stroke-linecap="butt"/>
<rect x="593.24" y="883.5999999999999" width="4.4" height="4.4" fill="#000"/>
<line x1="614.72" y1="904" x2="614.72" y2="887.3000000000001" stroke="#000" stroke-width="3.0" stroke-linecap="butt"/>
<line x1="612.9200000000001" y1="888.6" x2="618.12" y2="888.6" stroke="#000" stroke-width="2.6" stroke-linecap="butt"/>
<rect x="612.52" y="901.8" width="4.4" height="4.4" fill="#000"/>
<line x1="634.0" y1="902.1" x2="634.0" y2="888.5" stroke="#000" stroke-width="3.0" stroke-linecap="butt"/>
<line x1="632.2" y1="889.8" x2="637.4" y2="889.8" stroke="#000" stroke-width="2.6" stroke-linecap="butt"/>
<rect x="631.8" y="899.9" width="4.4" height="4.4" fill="#000"/>
<line x1="653.28" y1="924.3" x2="653.28" y2="911.8000000000001" stroke="#000" stroke-width="3.0" stroke-linecap="butt"/>
<line x1="651.48" y1="913.1" x2="656.68" y2="913.1" stroke="#000" stroke-width="2.6" stroke-linecap="butt"/>
<rect x="651.0799999999999" y="922.0999999999999" width="4.4" height="4.4" fill="#000"/>
<line x1="672.56" y1="939.5" x2="672.56" y2="936.2" stroke="#000" stroke-width="3.0" stroke-linecap="butt"/>
<line x1="670.76" y1="937.5" x2="675.9599999999999" y2="937.5" stroke="#000" stroke-width="2.6" stroke-linecap="butt"/>
<rect x="670.3599999999999" y="937.3" width="4.4" height="4.4" fill="#000"/>
<text x="574.32" y="859.78" font-size="17.71" font-weight="normal" class="n" fill="#000" textLength="6.14" lengthAdjust="spacingAndGlyphs">*</text>
<text x="593.31" y="859.18" font-size="18.0" font-weight="normal" class="n" fill="#000" textLength="6.47" lengthAdjust="spacingAndGlyphs">*</text>
<text x="611.4" y="880.18" font-size="18.0" font-weight="normal" class="n" fill="#000" textLength="6.69" lengthAdjust="spacingAndGlyphs">*</text>
<text x="630.73" y="884.27" font-size="18.57" font-weight="normal" class="n" fill="#000" textLength="6.03" lengthAdjust="spacingAndGlyphs">*</text>
</svg>
</body></html>
